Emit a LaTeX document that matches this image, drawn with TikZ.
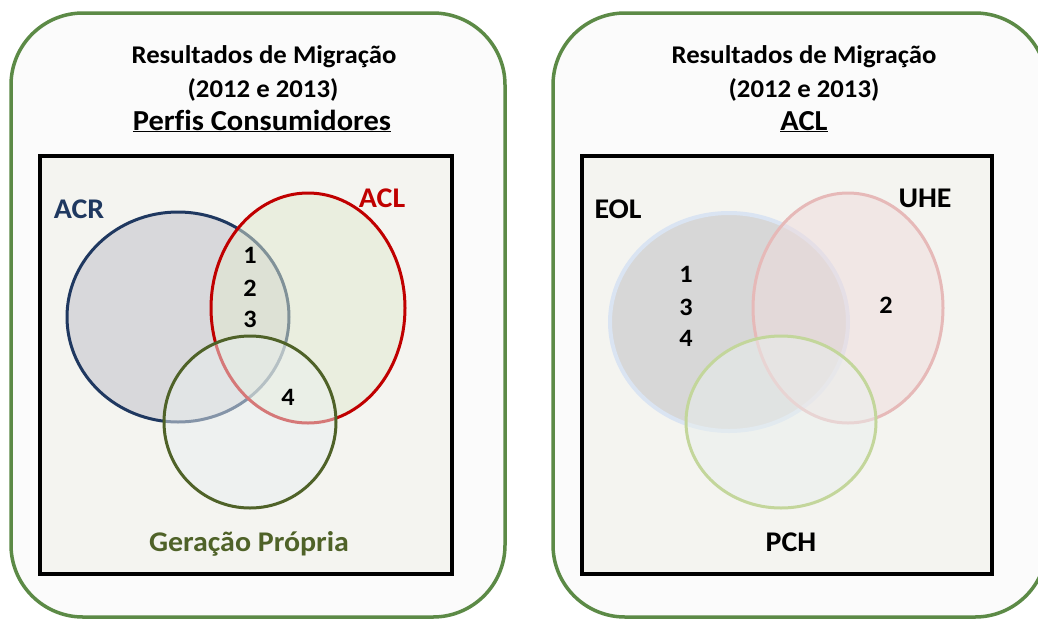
\documentclass[tikz,border=0pt]{standalone}
\usepackage{fontspec}
\setmainfont{Carlito}[FakeStretch=1.05,Ligatures=NoCommon]
\definecolor{panelgreen}{RGB}{92,138,70}
\definecolor{panelfill}{RGB}{251,251,251}
\definecolor{boxfill}{RGB}{244,244,240}
\definecolor{acrline}{RGB}{31,56,96}
\definecolor{acrfill}{RGB}{190,190,200}
\definecolor{aclline}{RGB}{192,0,0}
\definecolor{aclfill}{RGB}{226,234,208}
\definecolor{gpline}{RGB}{79,98,40}
\definecolor{gpfill}{RGB}{234,240,240}
\definecolor{eolline}{RGB}{218,228,242}
\definecolor{eolfill}{RGB}{188,188,192}
\definecolor{uheline}{RGB}{230,185,184}
\definecolor{uhefill}{RGB}{240,220,220}
\definecolor{pchline}{RGB}{195,214,155}
\definecolor{pchfill}{RGB}{234,240,238}
\begin{document}
\begin{tikzpicture}[x=1pt,y=-1pt,
  panel/.style={draw=panelgreen,line width=3.5pt,fill=panelfill,rounded corners=72pt},
  framebox/.style={draw=black,line width=3.5pt,fill=boxfill},
  setshape/.style={line width=3pt,fill opacity=0.5,draw opacity=1},
  titletext/.style={font=\bfseries\fontsize{25.5}{30}\selectfont,anchor=base,inner sep=0pt},
  headtext/.style={font=\bfseries\fontsize{29}{34}\selectfont,anchor=base,inner sep=0pt},
  labeltext/.style={font=\bfseries\fontsize{28.5}{33}\selectfont,anchor=base,inner sep=0pt},
  numtext/.style={font=\bfseries\fontsize{25}{29}\selectfont,anchor=base,inner sep=0pt}]
\useasboundingbox (0,0) rectangle (1038,619);
\clip (0,0) rectangle (1038,619);
\fill[white] (0,0) rectangle (1038,619);

% ---------- left panel ----------
\path[panel] (11,13) rectangle (505,617);
\path[framebox] (40,156) rectangle (452,574);
\node[titletext] (lt1) at (264,63) {Resultados de Migração};
\node[titletext] (lt2) at (263,97) {(2012 e 2013)};
\node[headtext] (lt3) at (262,130) {\underline{Perfis Consumidores}};

\path[setshape,draw=acrline,fill=acrfill] (178,317) ellipse [x radius=111,y radius=105];
\path[setshape,draw=aclline,fill=aclfill] (308,308) ellipse [x radius=97,y radius=115];
\path[setshape,draw=gpline,fill=gpfill] (250,422) ellipse [x radius=86,y radius=86];

\node[labeltext,text=acrline] (acr) at (79,218) {ACR};
\node[labeltext,text=aclline] (acl) at (382,207) {ACL};
\node[labeltext,text=gpline] (gp) at (249,551) {Geração Própria};
\node[numtext] (ln1) at (250,263) {1};
\node[numtext] (ln2) at (250,296) {2};
\node[numtext] (ln3) at (250,327) {3};
\node[numtext] (ln4) at (288,405) {4};

% ---------- right panel ----------
\path[panel] (553,13) rectangle (1047,617);
\path[framebox] (582,156) rectangle (992,574);
\node[titletext] (rt1) at (804,63) {Resultados de Migração};
\node[titletext] (rt2) at (804,97) {(2012 e 2013)};
\node[headtext] (rt3) at (804,130) {\underline{ACL}};

\path[setshape,line width=4pt,draw=eolline,fill=eolfill] (729,322) ellipse [x radius=119,y radius=109];
\path[setshape,draw=uheline,fill=uhefill] (848,308) ellipse [x radius=95,y radius=115];
\path[setshape,draw=pchline,fill=pchfill] (781,422) ellipse [x radius=95,y radius=86];

\node[labeltext] (eol) at (618,218) {EOL};
\node[labeltext] (uhe) at (925,207) {UHE};
\node[labeltext] (pch) at (791,551) {PCH};
\node[numtext] (rn1) at (686,282) {1};
\node[numtext] (rn3) at (686,315) {3};
\node[numtext] (rn4) at (686,346) {4};
\node[numtext] (rn2) at (886,313) {2};
\end{tikzpicture}
\end{document}
